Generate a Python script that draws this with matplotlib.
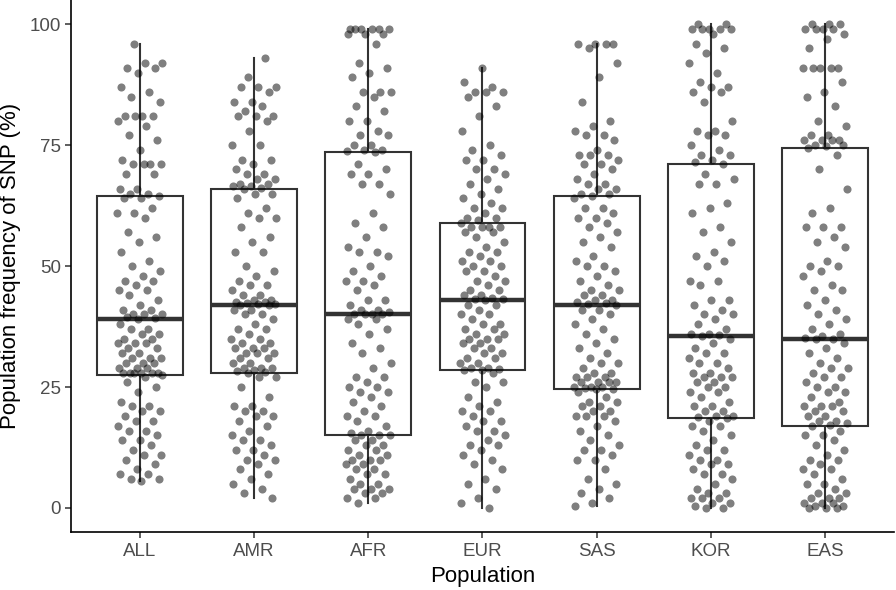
import numpy as np
import matplotlib
matplotlib.use("Agg")
import matplotlib.pyplot as plt

plt.rcParams['font.family'] = ['Liberation Sans', 'DejaVu Sans']

populations = ["ALL", "AMR", "AFR", "EUR", "SAS", "KOR", "EAS"]

freq_all = [96, 92, 92, 91, 91, 90, 87, 86, 85, 84, 81, 81, 81, 81, 80, 79, 77, 76, 74, 72, 71, 71, 71, 71, 69, 69, 66, 66, 65, 65,
            64.5,
            64, 64, 62, 61, 61, 60, 57, 56, 55, 53, 51, 50, 49, 48, 47, 47, 46, 45, 45, 44, 43, 42, 41, 41, 40, 40, 40, 39.5, 39.2,
            39,
            38, 37, 37, 36, 36, 35, 35, 34, 34, 34, 33, 33, 32, 32, 31, 31, 31, 30, 30, 30, 29, 29, 29, 28, 28, 28, 28, 28, 27.8,
            27.5,
            27, 26, 25, 24, 22, 21, 21, 20, 20, 19, 18, 18, 17, 16, 16, 15, 14, 14, 13, 12, 11, 11, 10, 9, 8, 7, 7, 6, 6, 5.5]

freq_amr = [93, 89, 87, 87, 87, 86, 84, 84, 83, 82, 81, 81, 81, 80, 78, 75, 75, 72, 72, 71, 70, 69, 69, 68, 68, 67, 67, 66.5, 66.5, 66.2,
            66,
            65, 65, 64, 62, 61, 60, 60, 58, 56, 55, 53, 53, 50, 49, 48, 47, 46, 46, 45, 44, 44, 43, 43, 42.5, 42.5, 42.3, 42.2, 42.1, 42.05,
            42,
            41, 41, 40, 40, 39, 38, 37, 37, 36, 35, 35, 34, 34, 33, 33, 33, 32, 32, 32, 31, 31, 30, 30, 29, 29, 29, 28.5, 28.3, 28.1,
            28,
            27, 27, 25, 23, 21, 21, 20, 20, 19, 19, 18, 17, 16, 15, 14, 14, 13, 12, 12, 11, 10, 10, 9, 8, 7, 6, 5, 4, 3, 2]

freq_afr = [99, 99, 99, 99, 99, 99, 98, 98, 98, 96, 92, 91, 90, 89, 86, 86, 86, 85, 83, 82, 80, 80, 78, 77, 77, 75, 75, 74, 74, 73.8,
            73.5,
            71, 70, 69, 69, 67, 67, 65, 61, 59, 58, 56, 54, 53, 53, 52, 50, 49, 48, 47, 47, 46, 45, 43, 43, 42, 41, 41, 40.5, 40.2,
            40,
            40, 40, 39, 39, 38, 37, 36, 34, 33, 32, 30, 29, 27, 27, 26, 25, 25, 24, 24, 23, 22, 21, 20, 19, 19, 18, 17, 16, 15.5,
            15,
            15, 15, 14, 14, 13, 13, 12, 12, 11, 11, 10, 10, 10, 9, 9, 8, 8, 7, 7, 6, 5, 5, 4, 4, 4, 3, 3, 2, 2, 1]

freq_eur = [91, 88, 87, 86, 86, 86, 85, 83, 81, 78, 75, 74, 73, 72, 72, 70, 70, 69, 68, 67, 66, 65, 64, 63, 62, 62, 61, 60, 60, 59.5,
            59,
            58, 58, 58, 58, 57, 57, 56, 55, 54, 53, 53, 52, 51, 51, 50, 50, 49, 49, 48, 47, 47, 46, 45, 45, 44, 44, 43.5, 43.3, 43.1,
            43,
            42, 42, 41, 40, 40, 39, 38, 38, 37, 37, 36, 36, 35, 35, 35, 34, 34, 33, 33, 32, 32, 31, 31, 30, 30, 29, 29, 28.8, 28.6,
            28.5,
            28, 26, 26, 25, 23, 22, 21, 20, 20, 19, 18, 18, 17, 16, 16, 15, 14, 13, 13, 12, 11, 10, 9, 8, 6, 5, 4, 2, 1, 0]

freq_sas = [96, 96, 96, 96, 95, 92, 89, 84, 80, 79, 78, 77, 77, 76, 74, 73, 73, 73, 72, 71, 71, 70, 69, 68, 67, 67, 66, 66, 65, 65,
            64.5,
            64, 62, 62, 61, 60, 60, 59, 58, 57, 56, 55, 54, 52, 51, 50, 50, 49, 48, 47, 46, 45, 45, 44, 44, 43, 43, 42.5, 42.3, 42.1,
            42,
            41, 41, 40, 39, 38, 37, 36, 35, 34, 33, 32, 31, 30, 30, 29, 28, 28, 27, 27, 27, 26, 26, 26, 26, 25, 25, 25, 24.8, 24.6,
            24.5,
            24, 23, 22, 22, 21, 21, 20, 20, 19, 19, 19, 18, 17, 16, 15, 14, 13, 12, 12, 11, 10, 10, 8, 6, 5, 4, 3, 2, 1, 0.5]

freq_kor = [100, 100, 99, 99, 99, 99, 99, 98, 96, 95, 94, 92, 90, 88, 87, 87, 86, 86, 84, 80, 78, 78, 77, 77, 75, 74, 73, 73, 72, 71.5,
            71,
            69, 68, 67, 67, 63, 62, 61, 58, 57, 55, 53, 52, 51, 50, 47, 47, 46, 43, 43, 42, 41, 40, 40, 39, 38, 37, 36, 36, 35.8,
            35.5,
            35, 34, 33, 32, 32, 31, 30, 30, 29, 28, 28, 27, 27, 27, 26, 26, 25, 25, 24, 24, 23, 22, 21, 21, 20, 20, 19, 19, 18.8,
            18.5,
            18, 17, 17, 16, 15, 14, 13, 12, 12, 11, 10, 10, 9, 9, 8, 7, 7, 6, 5, 4, 3, 3, 2, 2, 2, 1, 1, 0.5, 0, 0]

freq_eas = [100, 100, 100, 99, 99, 99, 99, 98, 97, 95, 91, 91, 91, 91, 91, 88, 86, 85, 83, 80, 79, 77, 77, 76, 76, 76, 76, 75, 75, 74.8,
            74.5,
            73, 70, 66, 62, 61, 58, 58, 58, 56, 55, 54, 51, 50, 50, 49, 48, 46, 45, 45, 43, 42, 41, 40, 39, 38, 37, 36, 35.5, 35.2,
            35,
            35, 34, 33, 32, 31, 30, 29, 29, 28, 27, 27, 26, 25, 25, 24, 24, 23, 22, 21, 21, 21, 20, 20, 19, 19, 18, 18, 17.5, 17.2,
            17,
            16, 15, 15, 14, 13, 12, 11, 10, 10, 9, 8, 8, 7, 6, 5, 5, 4, 3, 3, 2, 2, 2, 1, 1, 1, 0.5, 0.5, 0, 0, 0]

groups = [freq_all, freq_amr, freq_afr, freq_eur, freq_sas, freq_kor, freq_eas]

fig = plt.figure(figsize=(8.96, 5.90), dpi=100)
ax = fig.add_axes([0.0795, 0.098, 0.918, 0.902])

positions = np.arange(1, len(populations) + 1)
box_col = "#333333"
ax.boxplot(groups, positions=positions, widths=0.75, whis=1.5, showfliers=False,
           patch_artist=True,
           boxprops=dict(facecolor="white", edgecolor=box_col, linewidth=1.5),
           whiskerprops=dict(color=box_col, linewidth=1.5),
           capprops=dict(linewidth=0),
           medianprops=dict(color=box_col, linewidth=3.2),
           zorder=1)

# deterministic horizontal jitter (golden-ratio sequence)
for pos, vals in zip(positions, groups):
    k = np.arange(len(vals))
    offs = ((k * 0.6180339887 + 0.37 * pos) % 1.0 - 0.5) * 0.4
    ax.scatter(pos + offs, vals, s=34, color="black", alpha=0.5,
               linewidths=0, zorder=3)

ax.set_xlim(0.4, 7.6)
ax.set_ylim(-5, 105)
ax.set_xticks(positions)
ax.set_xticklabels(populations)
ax.set_yticks([0, 25, 50, 75, 100])
ax.tick_params(axis="both", labelsize=13.5, labelcolor="#4D4D4D",
               color="#333333", length=4, width=1.1)
ax.tick_params(axis="x", pad=4)
ax.set_xlabel("Population", fontsize=16, labelpad=4)
ax.set_ylabel("Population frequency of SNP (%)", fontsize=16, labelpad=6)
for side in ["top", "right"]:
    ax.spines[side].set_visible(False)
for side in ["left", "bottom"]:
    ax.spines[side].set_linewidth(1.2)
    ax.spines[side].set_color("black")

fig.savefig("out.png", dpi=100)
